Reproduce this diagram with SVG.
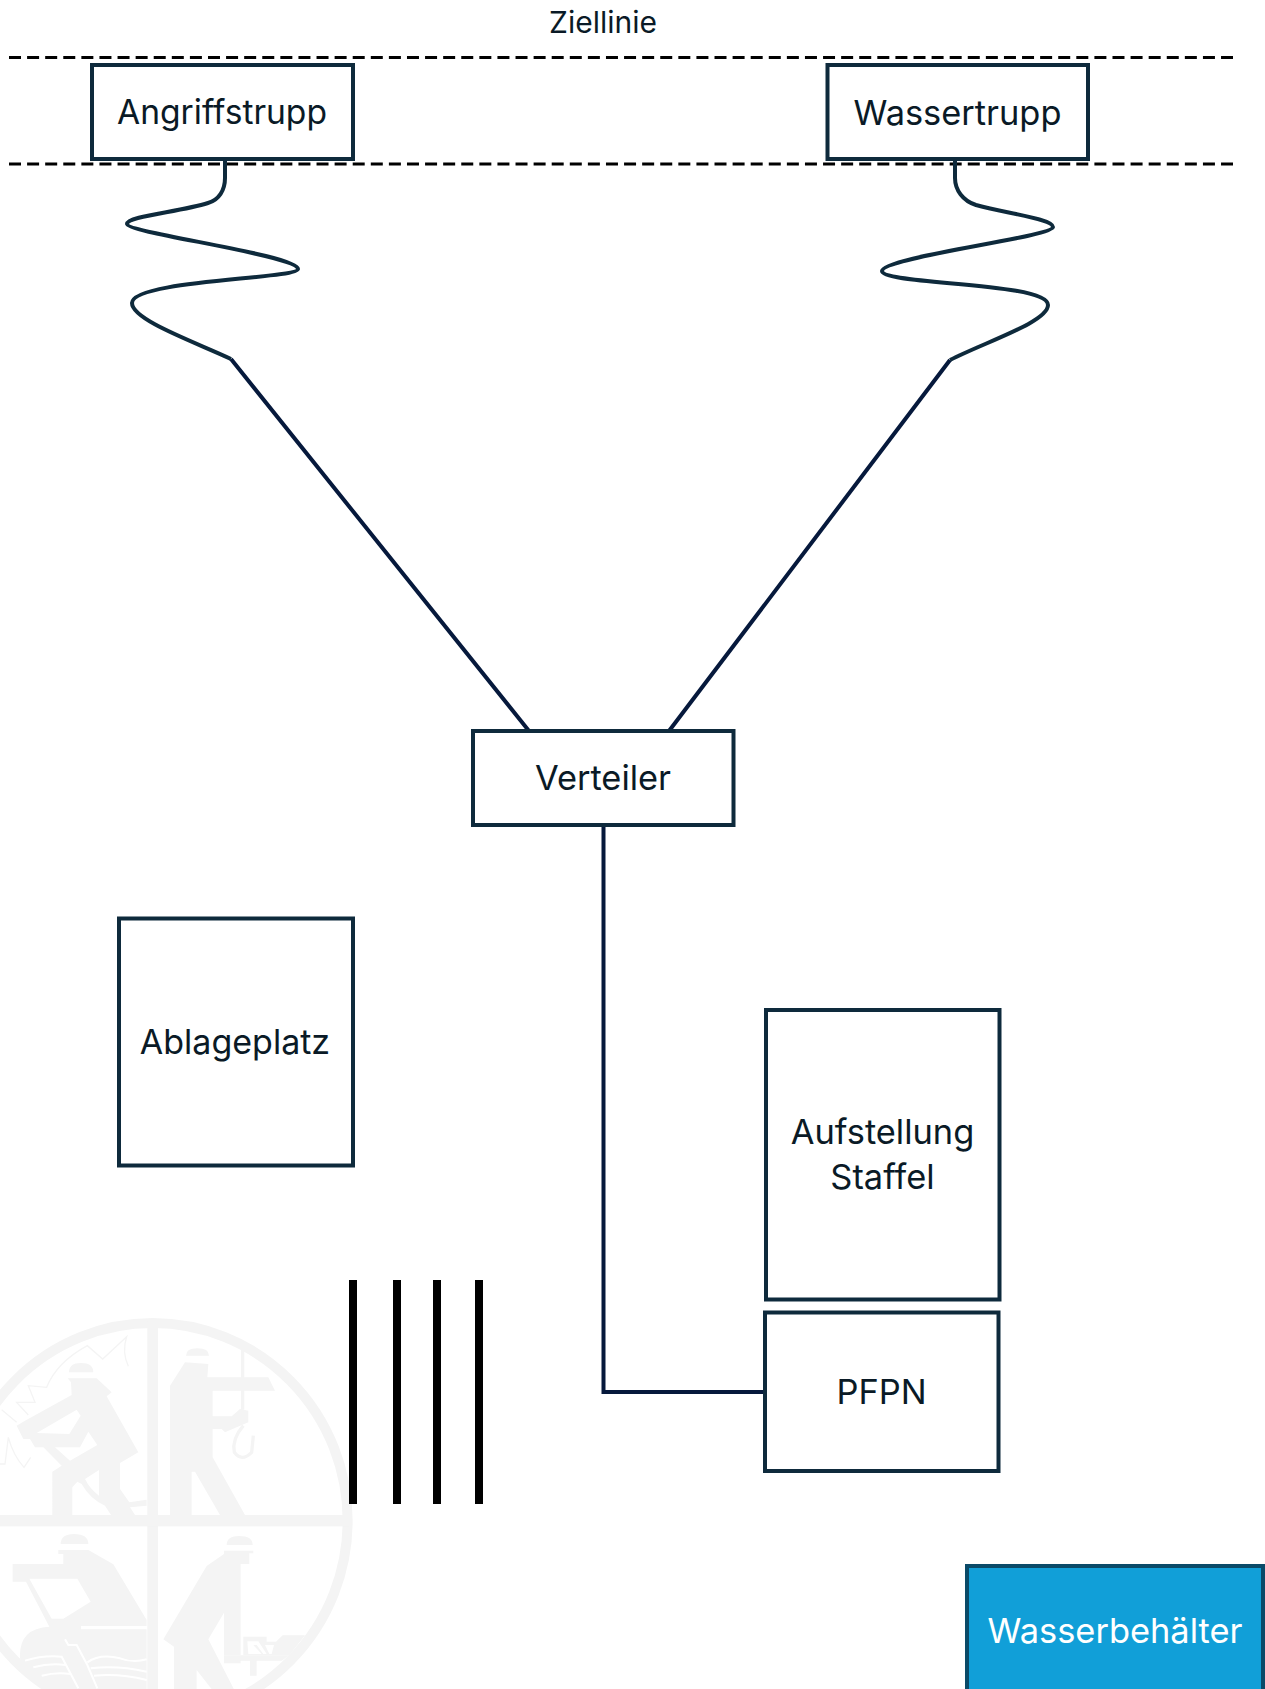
<svg xmlns="http://www.w3.org/2000/svg" width="1265" height="1689" viewBox="0 0 1265 1689">
<style>
text{font-family:"Inter","Noto Sans","Liberation Sans",sans-serif;font-size:34.400px;fill:#0a1a26;text-anchor:middle}
.box{fill:#fff;stroke:#0e2a3c;stroke-width:4}
.dash{stroke:#000;stroke-width:3;stroke-dasharray:12 6.090;fill:none}
.hose{fill:none;stroke:#0e2a3c;stroke-width:4;stroke-linejoin:round}
.line{fill:none;stroke:#06193c;stroke-width:4}
.bar{fill:#000}
.lg{fill:#f4f4f4;fill-rule:evenodd}
.ll{fill:none;stroke:#f4f4f4}
</style>
<defs><clipPath id="seal"><ellipse cx="458" cy="695" rx="590" ry="598"/></clipPath></defs>
<g id="logo" transform="translate(0 1289) scale(.33333)">
<ellipse cx="458" cy="695" rx="585" ry="593" fill="none" stroke="#f4f4f4" stroke-width="30"/>
<g clip-path="url(#seal)">
<rect x="442" y="90" width="32" height="1110" class="lg"/>
<rect x="-10" y="678" width="1060" height="34" class="lg"/>
<path class="lg" d="M207 250Q207 222 243 222Q280 222 280 250ZM558 200Q558 178 592 178Q627 178 627 200Z"/>
<path class="lg" d="M203 268H290L335 310L320 322L415 490L360 522V600L388 640L440 632V650L390 655L405 678H333L315 650Q270 630 245 585L232 578L217 595V678H157V548L185 530L130 475H105L90 450H70L50 410L75 395L215 318L213 280ZM110 432L230 362L242 380L208 435ZM165 475H240L265 428L292 468L210 515ZM255 570L297 543V620Q270 600 255 570Z"/>
<path class="ll" stroke-width="4" d="M5 362L50 400M85 378L50 340H105L85 290L140 295Q170 220 262 170L308 210L380 143Q365 190 385 232M0 525H15L25 445Q40 500 72 535L92 505"/>
<path class="lg" d="M555 220L625 225L622 265H805L825 305H638V382H695L720 360L745 365V400L675 430L665 420H638V505L735 678H660L585 548H575V678H510V290Z"/>
<path class="ll" stroke-width="10" d="M728 180V362M730 410Q695 450 703 490Q725 520 755 490L760 440"/>
<g transform="translate(0 723)">
<path class="lg" d="M182 42Q182 12 222 12Q265 12 265 42ZM680 45Q680 18 718 18Q758 18 758 45Z"/>
<path class="lg" d="M175 60H265L340 103L440 270V288H243V298H440V480H120L60 385Q55 295 148 290L78 155H38V102H190V72H175ZM88 146H232L272 215L190 266H155Z"/>
<path d="M75 392Q130 375 185 380L235 475M100 412Q150 398 197 405M125 437Q170 425 212 432M195 328L205 345H230L262 405L292 475M262 397Q300 370 360 385Q400 400 440 388M272 415Q350 405 440 425M282 437Q360 430 440 450" fill="none" stroke="#fff" stroke-width="6"/>
<path class="lg" d="M672 62H760V70H748V102H722V376H672V248L625 328L703 480H637L590 420V480H522V350L490 328L620 108L672 72Z"/>
<path class="lg" d="M730 320H800V335H828L848 316H915L868 376H730ZM742 334H775L800 372H790L770 345H760L785 372H745ZM795 345H822L815 372H808Z"/>
<path class="lg" d="M722 376H868L845 392H770V437H750V392H722V400H672V376Z"/>
</g>
</g>
</g>
<g id="connectors">
<line class="dash" x1="9" y1="57.500" x2="1233" y2="57.500"/>
<line class="dash" x1="9" y1="164" x2="1233" y2="164"/>
<path class="hose" d="M225 161V178C225 190 219 200 208 203C180 212 127 216 127 224C127 233 298 255 298 269C298 279 132 280 132 303C132 320 195 342 231 359"/>
<path class="hose" d="M955 161V178C955 190 963 201 976 205C1005 213 1053 219 1053 227C1053 237 882 257 882 271C882 285 1048 282 1048 305C1048 322 985 342 950 360"/>
<path class="line" d="M231 359L529 731M950 360L669 731M603.500 825V1392H765"/>
</g>
<g id="n-ziellinie"><text x="603" y="33" style="font-size:30px">Ziellinie</text></g>
<g id="n-angriffstrupp"><rect class="box" x="92" y="65" width="261" height="94"/><text x="222" y="124" style="font-size:33.600px">Angriffstrupp</text></g>
<g id="n-wassertrupp"><rect class="box" x="827.500" y="65" width="260.500" height="94"/><text x="957.500" y="125">Wassertrupp</text></g>
<g id="n-verteiler"><rect class="box" x="473" y="731" width="260.500" height="94"/><text x="603" y="790">Verteiler</text></g>
<g id="n-ablageplatz"><rect class="box" x="119" y="918.500" width="234" height="247"/><text x="235" y="1054" style="font-size:34px">Ablageplatz</text></g>
<g id="n-aufstellung"><rect class="box" x="766" y="1010" width="233.500" height="289.500"/><text x="882.500" y="1144">Aufstellung</text><text x="882.500" y="1189">Staffel</text></g>
<g id="n-pfpn"><rect class="box" x="765" y="1312.500" width="233.500" height="158.500"/><text x="881.500" y="1404">PFPN</text></g>
<g id="n-wasserbehaelter"><rect x="967" y="1566" width="296" height="140" fill="#119fd8" stroke="#0a4a68" stroke-width="4"/><text x="1115" y="1643" style="fill:#fff">Wasserbehälter</text></g>
<g id="bars">
<rect class="bar" x="349" y="1280" width="8" height="224"/>
<rect class="bar" x="393" y="1280" width="8" height="224"/>
<rect class="bar" x="433" y="1280" width="8" height="224"/>
<rect class="bar" x="475" y="1280" width="8" height="224"/>
</g>
</svg>
